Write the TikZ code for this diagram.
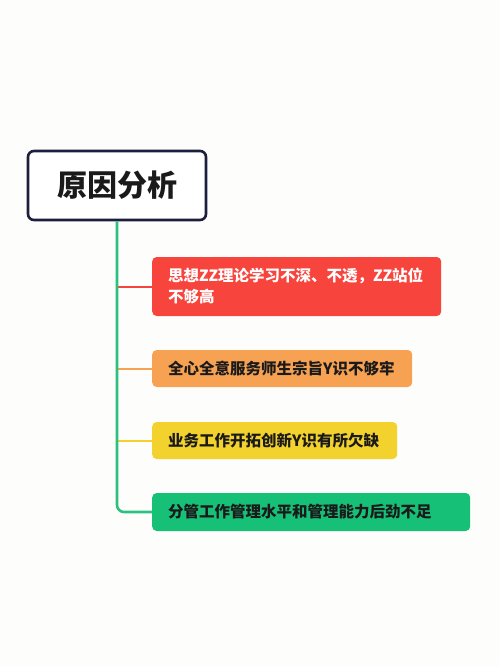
\documentclass[tikz,border=0pt]{standalone}
\usepackage{fontspec}
\newfontfamily\cjk{Noto Sans CJK SC}
\definecolor{bg}{HTML}{FDFDFB}
\definecolor{cred}{HTML}{F7443D}
\definecolor{corange}{HTML}{F7A252}
\definecolor{cyellow}{HTML}{F3D22E}
\definecolor{cgreen}{HTML}{17C077}
\definecolor{ctrunk}{HTML}{2EC07F}
\definecolor{cnavy}{HTML}{1B1E3C}
\definecolor{ctext}{HTML}{1A1A1A}
\begin{document}
\begin{tikzpicture}[x=1pt,y=-1pt,
  rootbox/.style={draw=cnavy, line width=2.6pt, fill=white, rounded corners=6pt,
    minimum width=178pt, minimum height=69pt, inner sep=0pt,
    font=\cjk\bfseries\fontsize{30}{36}\selectfont, text=ctext},
  branchbox/.style={rounded corners=4.5pt, inner xsep=16pt, inner ysep=0pt, anchor=west,
    align=left, font=\cjk\bfseries\fontsize{15.5}{21}\selectfont, text=ctext},
  branchline/.style={line width=2pt, rounded corners=3pt},
  trunkline/.style={draw=ctrunk, line width=2.6pt, rounded corners=7pt}]
\fill[bg] (0,0) rectangle (500,666);
\useasboundingbox (0,0) rectangle (500,666);
\node[rootbox] (root) at (117,185.5) {原因分析};
\node[branchbox, fill=cred, text=white, text width=257pt, minimum height=59pt] (b1) at (152,286.5)
  {思想ZZ理论学习不深、不透，ZZ站位\\不够高};
\node[branchbox, fill=corange, text width=228pt, minimum height=37pt] (b2) at (152,368.5)
  {全心全意服务师生宗旨Y识不够牢};
\node[branchbox, fill=cyellow, text width=213pt, minimum height=37pt] (b3) at (152,440.5)
  {业务工作开拓创新Y识有所欠缺};
\node[branchbox, fill=cgreen, text width=286pt, minimum height=38pt] (b4) at (152,512)
  {分管工作管理水平和管理能力后劲不足};
\coordinate (t1) at (root.south |- b1.west);
\coordinate (t2) at (root.south |- b2.west);
\coordinate (t3) at (root.south |- b3.west);
\draw[branchline, draw=cred] (t1) -- (b1.west);
\draw[branchline, draw=corange] (t2) -- (b2.west);
\draw[branchline, draw=cyellow] (t3) -- (b3.west);
\draw[trunkline] (root.south) |- (b4.west);
\end{tikzpicture}
\end{document}
